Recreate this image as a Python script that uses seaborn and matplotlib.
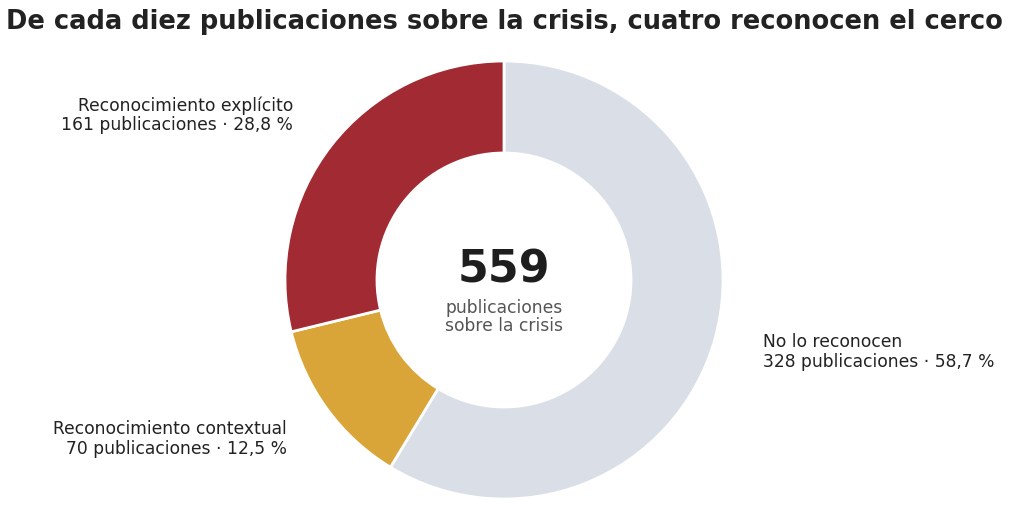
import matplotlib
matplotlib.use("Agg")
import matplotlib.pyplot as plt
import seaborn as sns

# datos del gráfico
categorias = ["No lo reconocen", "Reconocimiento contextual", "Reconocimiento explícito"]
publicaciones = [328, 70, 161]
porcentajes = ["58,7 %", "12,5 %", "28,8 %"]
colores = ["#dadee6", "#d9a538", "#a12a33"]
total = 559

sns.set_theme(style="white")
plt.rcParams['font.family'] = ['DejaVu Sans']

fig = plt.figure(figsize=(10.24, 5.06), dpi=100)
ax = fig.add_axes([285 / 1024, 6 / 506, 438 / 1024, 438 / 506])

ax.pie(publicaciones, colors=colores, startangle=90, counterclock=False,
       radius=1, wedgeprops=dict(width=0.42, edgecolor="white", linewidth=2))
ax.set_xlim(-1, 1)
ax.set_ylim(-1, 1)
ax.set_aspect("equal")
ax.axis("off")

# etiquetas de cada segmento
posiciones = [(1.183, -0.324, "left"), (-0.991, -0.721, "right"), (-0.963, 0.758, "right")]
for cat, n, pct, (x, y, ha) in zip(categorias, publicaciones, porcentajes, posiciones):
    ax.text(x, y, f"{cat}\n{n} publicaciones · {pct}", ha=ha, va="center",
            fontsize=12.3, color="#222222", linespacing=1.1, clip_on=False,
            multialignment=ha)

ax.text(0, 0.05, str(total), ha="center", va="center", fontsize=32,
        fontweight="bold", color="#1e1e1e")
ax.text(0, -0.165, "publicaciones\nsobre la crisis", ha="center", va="center",
        fontsize=12.3, color="#555555", linespacing=1.05)

fig.text(504 / 1024, 1 - 22 / 506, "De cada diez publicaciones sobre la crisis, cuatro reconocen el cerco",
         ha="center", va="center", fontsize=18.5, fontweight="bold", color="#222222")

fig.savefig("out.png", dpi=100)
